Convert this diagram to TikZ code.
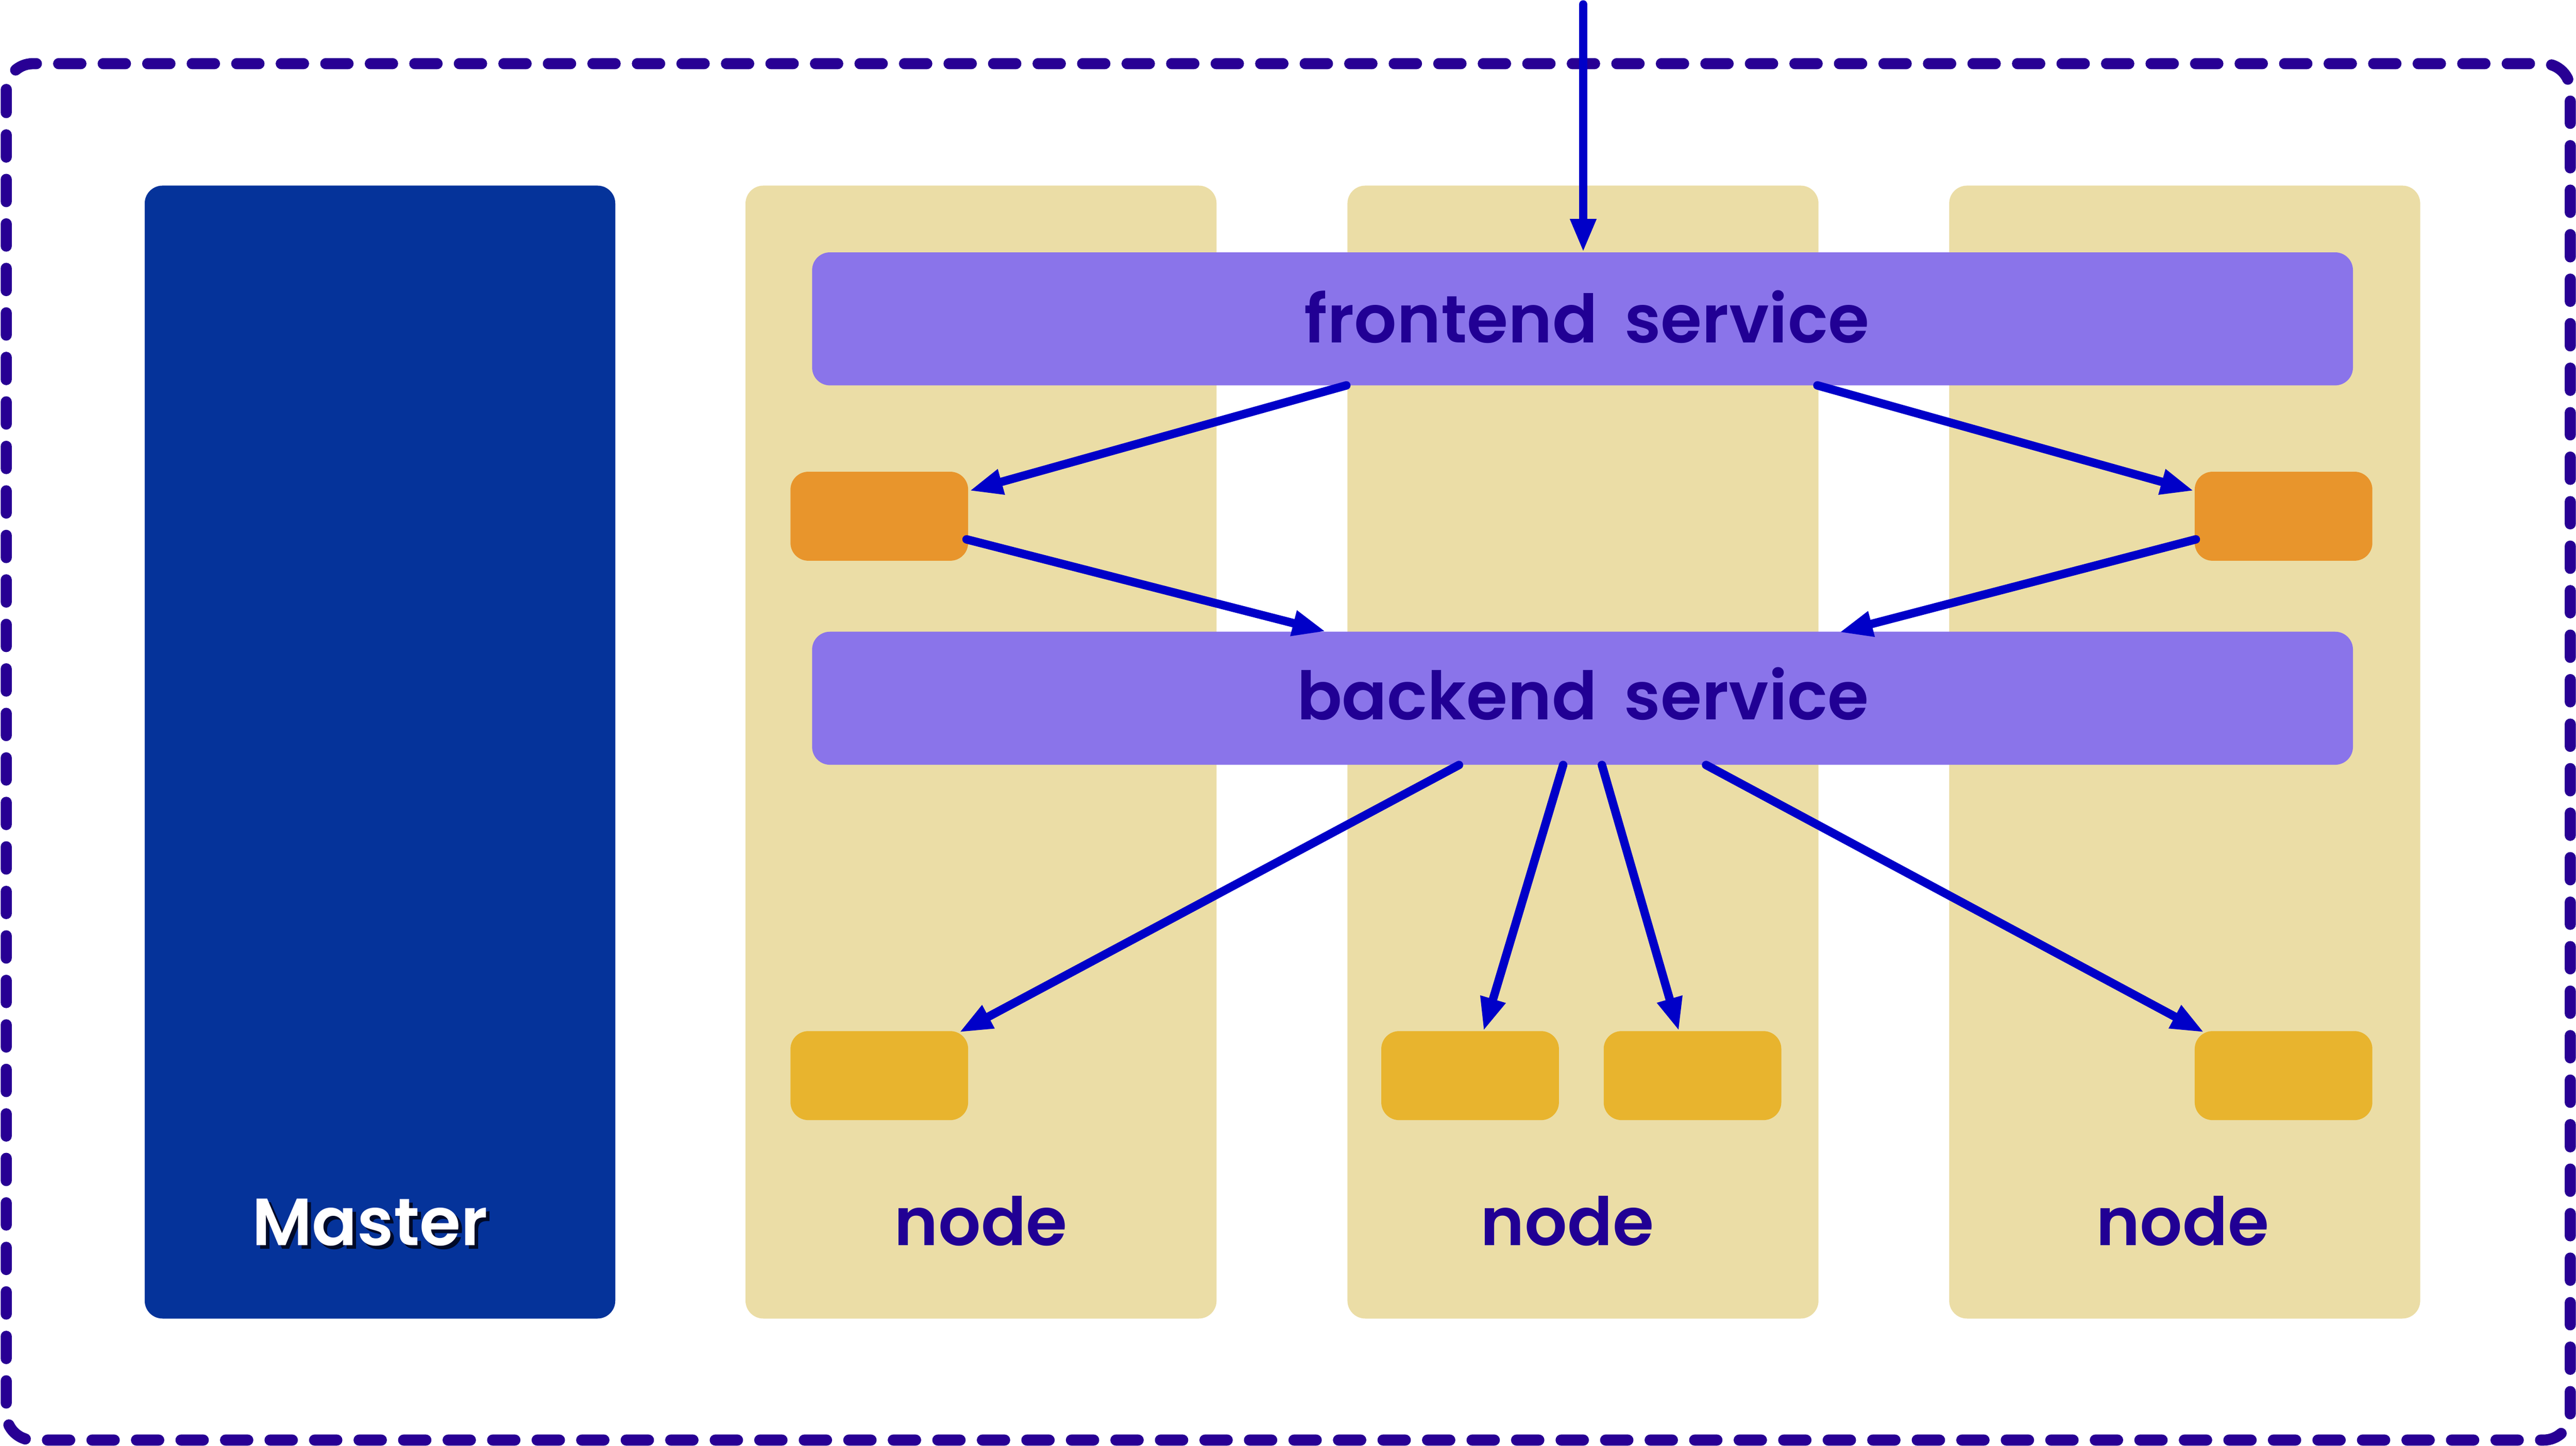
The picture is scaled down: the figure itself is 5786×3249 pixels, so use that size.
\documentclass[tikz,border=0pt]{standalone}
\usepackage{fontspec}
\setmainfont{Poppins}[BoldFont={Poppins SemiBold}]
\usetikzlibrary{arrows.meta}
\definecolor{bordercol}{HTML}{280094}
\definecolor{arrowcol}{HTML}{0000C8}
\definecolor{textcol}{HTML}{210094}
\definecolor{masterfill}{HTML}{05339A}
\definecolor{colfill}{HTML}{EBDDA6}
\definecolor{svcfill}{HTML}{8A74EA}
\definecolor{podorange}{HTML}{E8952C}
\definecolor{podyellow}{HTML}{E8B42E}
\definecolor{shadowcol}{HTML}{000A28}
\begin{document}
\begin{tikzpicture}[x=0.1pt,y=-0.1pt,
  boxshape/.style={rectangle, inner sep=0pt, outer sep=0pt, rounded corners=4pt},
  masterbox/.style={boxshape, fill=masterfill, minimum width=105.7pt, minimum height=254.6pt},
  colbox/.style={boxshape, fill=colfill, minimum width=105.8pt, minimum height=254.6pt},
  svcbox/.style={boxshape, fill=svcfill, minimum width=346.1pt, minimum height=29.9pt},
  orangepod/.style={boxshape, fill=podorange, minimum width=39.9pt, minimum height=20pt},
  yellowpod/.style={boxshape, fill=podyellow, minimum width=39.9pt, minimum height=20pt},
  lbl/.style={inner sep=0pt, anchor=base, font=\fontsize{15}{18}\selectfont\bfseries, text=textcol},
  arr/.style={draw=arrowcol, line width=1.9pt, line cap=round, -{Triangle[length=7.5pt, width=5.4pt]}},
  dashedborder/.style={draw=bordercol, line width=2.5pt, dash pattern=on 5pt off 5pt, line cap=round, rounded corners=6pt}
]
\useasboundingbox (0,0) rectangle (5786,3249);

% outer dashed cluster border
\draw[dashedborder] (14,143) rectangle (5773,3236);

% master and node columns
\node[masterbox] (master) at (853.5,1690) {};
\node[colbox] (col1) at (2203.5,1690) {};
\node[colbox] (col2) at (3555.5,1690) {};
\node[colbox] (col3) at (4907,1690) {};

% services
\node[svcbox] (fe) at (3554.5,716.5) {};
\node[svcbox] (be) at (3554.5,1569) {};

% pods
\node[orangepod] (o1) at (1975,1160) {};
\node[orangepod] (o2) at (5129,1160) {};
\node[yellowpod] (y1) at (1975,2417) {};
\node[yellowpod] (y2) at (3302,2417) {};
\node[yellowpod] (y3) at (3801.5,2417) {};
\node[yellowpod] (y4) at (5129,2417) {};

% labels
\node[lbl] (tfe) at (3564,770) {frontend\hspace{2.5pt} service};
\node[lbl] (tbe) at (3555,1617) {backend\hspace{2.5pt} service};
\node[lbl, text=shadowcol] (tmastershadow) at (839,2807) {Master};
\node[lbl, text=white] (tmaster) at (831,2799) {Master};
\node[lbl] (tn1) at (2203,2799) {node};
\node[lbl] (tn2) at (3520,2799) {node};
\node[lbl] (tn3) at (4902,2799) {node};

% connector end points
\coordinate (in) at (3556,10);
\coordinate (feT) at (3556,567);
\coordinate (feL) at (3024,866);
\coordinate (feR) at (4082,866);
\coordinate (o1in) at (2177,1103);
\coordinate (o2in) at (4928,1103);
\coordinate (o1out) at (2171,1212);
\coordinate (o2out) at (4932,1212);
\coordinate (beinL) at (2978,1419);
\coordinate (beinR) at (4131,1421);
\coordinate (be1) at (3277,1719);
\coordinate (be2) at (3511,1719);
\coordinate (be3) at (3598,1719);
\coordinate (be4) at (3832,1719);
\coordinate (y1in) at (2154,2320);
\coordinate (y2in) at (3332,2317);
\coordinate (y3in) at (3771,2317);
\coordinate (y4in) at (4951,2320);

% connectors
\draw[arr] (in) -- (feT);
\draw[arr] (feL) -- (o1in);
\draw[arr] (feR) -- (o2in);
\draw[arr] (o1out) -- (beinL);
\draw[arr] (o2out) -- (beinR);
\draw[arr] (be1) -- (y1in);
\draw[arr] (be2) -- (y2in);
\draw[arr] (be3) -- (y3in);
\draw[arr] (be4) -- (y4in);
\end{tikzpicture}
\end{document}
